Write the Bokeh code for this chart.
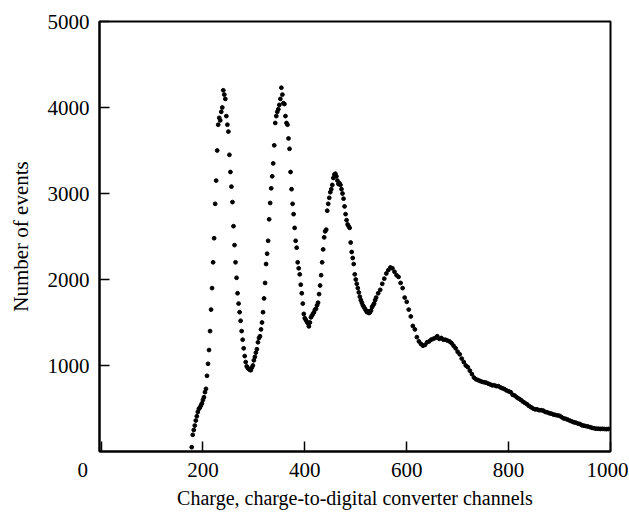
from bokeh.plotting import figure
from bokeh.models import FixedTicker, Range1d
from bokeh.embed import file_html
from bokeh.resources import INLINE

# channels (step 2 on peaks, step 4 on tail)
channels = list(range(178, 542, 2)) + list(range(544, 1000, 4))

counts_peaks = [
    50, 194, 250, 302, 360, 410, 460, 496, 510, 535,
    560, 600, 631, 690, 729, 880, 1020, 1180, 1400, 1650,
    1900, 2200, 2480, 2880, 3150, 3500, 3800, 3880, 3850, 3950,
    4000, 4200, 4150, 4100, 3900, 3800, 3720, 3450, 3250, 3080,
    2900, 2620, 2400, 2200, 2020, 1840, 1720, 1620, 1520, 1400,
    1300, 1200, 1110, 1040, 990, 970, 960, 950, 945, 975,
    1000, 1060, 1100, 1150, 1190, 1270, 1320, 1340, 1420, 1500,
    1620, 1780, 1960, 2180, 2300, 2450, 2700, 2890, 3060, 3200,
    3350, 3560, 3820, 3900, 3950, 3980, 4030, 4100, 4230, 4150,
    4050, 4040, 3900, 3820, 3800, 3640, 3520, 3250, 3050, 2880,
    2760, 2600, 2450, 2370, 2200, 2130, 2060, 1940, 1840, 1720,
    1600, 1550, 1530, 1510, 1490, 1455, 1500, 1560, 1580, 1600,
    1620, 1650, 1660, 1700, 1730, 1830, 1930, 2050, 2200, 2350,
    2490, 2560, 2580, 2800, 2880, 2950, 3015, 3050, 3100, 3180,
    3220, 3230, 3200, 3150, 3110, 3120, 3100, 3050, 3000, 2940,
    2850, 2760, 2690, 2640, 2620, 2600, 2430, 2320, 2250, 2180,
    2060, 2000, 1950, 1900, 1850, 1800, 1760, 1730, 1700, 1680,
    1660, 1640, 1620, 1630, 1610, 1620, 1640, 1680, 1700, 1720,
    1760, 1790,
]
counts_tail = [
    1840, 1880, 1950, 2010, 2070, 2110, 2140, 2130, 2090, 2050,
    2030, 1960, 1900, 1790, 1740, 1650, 1570, 1460, 1420, 1330,
    1280, 1250, 1230, 1240, 1270, 1280, 1300, 1310, 1320, 1340,
    1310, 1320, 1300, 1300, 1290, 1280, 1260, 1230, 1200, 1160,
    1130, 1080, 1040, 1000, 980, 940, 900, 860, 840, 830,
    820, 810, 805, 800, 790, 780, 770, 770, 760, 760,
    745, 735, 725, 710, 700, 690, 660, 650, 630, 615,
    600, 580, 565, 550, 530, 515, 500, 490, 490, 480,
    480, 475, 460, 455, 445, 440, 430, 425, 420, 415,
    400, 385, 380, 370, 360, 350, 340, 335, 325, 320,
    305, 300, 295, 290, 283, 275, 270, 265, 265, 262,
    264, 262, 260, 262,
]
counts = counts_peaks + counts_tail

x_ticks = [0, 200, 400, 600, 800, 1000]
x_tick_labels = {0: "0" + "\u00a0" * 7}
y_ticks = [1000, 2000, 3000, 4000, 5000]

FONT = "Liberation Serif"

p = figure(width=628, height=512, output_backend="svg", toolbar_location=None,
           x_range=Range1d(-3, 1000), y_range=Range1d(0, 5000),
           min_border_left=99, min_border_top=21, min_border_right=18,
           min_border_bottom=61)

p.scatter(channels[:len(counts)], counts, size=3.8, color="black", marker="circle")

p.grid.visible = False
p.outline_line_color = "black"
p.outline_line_width = 2

for ax in (p.xaxis[0], p.yaxis[0]):
    ax.axis_line_width = 2
    ax.major_tick_in = 10
    ax.major_tick_out = 0
    ax.major_tick_line_width = 1.5
    ax.minor_tick_line_color = None
    ax.major_label_text_font = FONT
    ax.major_label_text_font_size = "21px"
    ax.major_label_text_color = "black"
    ax.axis_label_text_font = FONT
    ax.axis_label_text_font_style = "normal"
    ax.axis_label_text_color = "black"

p.xaxis.axis_label_text_font_size = "20px"
p.yaxis.axis_label_text_font_size = "21px"
p.xaxis.ticker = FixedTicker(ticks=x_ticks)
p.xaxis.major_label_overrides = x_tick_labels
p.yaxis.ticker = FixedTicker(ticks=y_ticks)
p.xaxis.axis_label = "Charge, charge-to-digital converter channels"
p.yaxis.axis_label = "Number of events"
p.xaxis.major_label_standoff = 6
p.yaxis.major_label_standoff = 10
p.xaxis.axis_label_standoff = 2
p.yaxis.axis_label_standoff = 12

open("out.html", "w").write(file_html(p, INLINE))
